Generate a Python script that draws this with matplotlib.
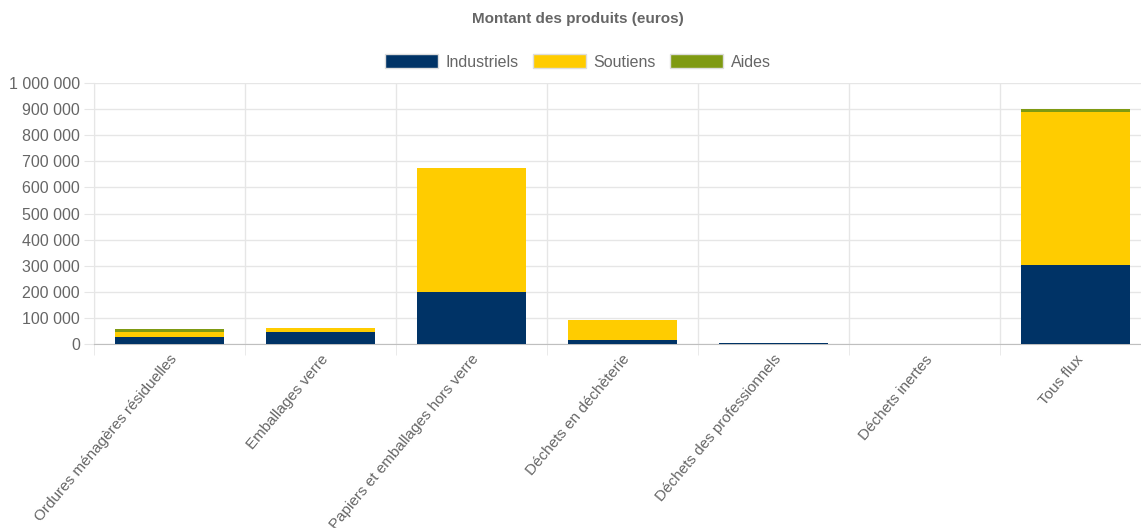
import numpy as np
import matplotlib.pyplot as plt
import matplotlib.transforms as mtransforms
from matplotlib.ticker import FuncFormatter

categories = ["Ordures ménagères résiduelles", "Emballages verre",
              "Papiers et emballages hors verre", "Déchets en déchèterie",
              "Déchets des professionnels", "Déchets inertes", "Tous flux"]
industriels = [25000, 47000, 200000, 16000, 3000, 0, 301000]
soutiens = [22000, 13000, 475000, 77000, 0, 0, 589000]
aides = [10000, 0, 0, 0, 0, 0, 9000]

series = ["Industriels", "Soutiens", "Aides"]
colors = ["#003366", "#ffcc00", "#7f9a12"]
text_col = "#666666"
grid_col = "#e6e6e6"

plt.rcParams['font.family'] = ['Liberation Sans', 'DejaVu Sans']

fig = plt.figure(figsize=(11.41, 5.28), dpi=100)
W, H = 1141, 528
ax = fig.add_axes([94 / W, 1 - 344 / H, (1151 - 94) / W, (344 - 83) / H])

x = np.arange(len(categories))
bottom = np.zeros(len(categories))
handles = []
for name, vals, c in zip(series, [industriels, soutiens, aides], colors):
    b = ax.bar(x, vals, width=0.72, bottom=bottom, color=c, label=name, zorder=3)
    handles.append(b)
    bottom += np.array(vals)

ax.set_xlim(-0.5, len(categories) - 0.5)
ax.set_ylim(0, 1000000)
ax.set_yticks(np.arange(0, 1000001, 100000))
ax.yaxis.set_major_formatter(FuncFormatter(lambda v, p: f"{int(v):,}".replace(",", " ")))
ax.grid(axis='y', color=grid_col, linewidth=1, zorder=0)
ax.tick_params(axis='y', length=7, color=grid_col, pad=3, labelsize=11.5, labelcolor=text_col)

# category boundaries for vertical gridlines
ax.set_xticks(np.arange(-0.5, len(categories)), minor=True)
ax.grid(axis='x', which='minor', color=grid_col, linewidth=1, zorder=0)
ax.tick_params(axis='x', which='minor', length=8, color=grid_col)
ax.set_xticks(x)
ax.tick_params(axis='x', which='major', length=0)
offset = mtransforms.ScaledTranslation(5 / 100, -8 / 100, fig.dpi_scale_trans)
ax.set_xticklabels(categories, rotation=50, ha='right', va='center',
                   rotation_mode='anchor', fontsize=11, color=text_col)
for lbl in ax.get_xticklabels():
    lbl.set_transform(lbl.get_transform() + offset)

for s in ['top', 'right']:
    ax.spines[s].set_visible(False)
ax.spines['left'].set_color(grid_col)
ax.spines['bottom'].set_color("#bfbfbf")

fig.text(578 / W, 1 - 19 / H, "Montant des produits (euros)", ha='center', va='center',
         fontsize=11, fontweight='bold', color=text_col)
leg = fig.legend(handles=handles, labels=series, loc='center', bbox_to_anchor=(578 / W, 1 - 62 / H),
                 ncol=3, frameon=False, fontsize=11.5, handlelength=3.3, handleheight=0.95,
                 handletextpad=0.5, columnspacing=0.9, labelcolor=text_col)
for p in leg.get_patches():
    p.set_edgecolor("#dddddd")

fig.savefig("out.png", dpi=100)
